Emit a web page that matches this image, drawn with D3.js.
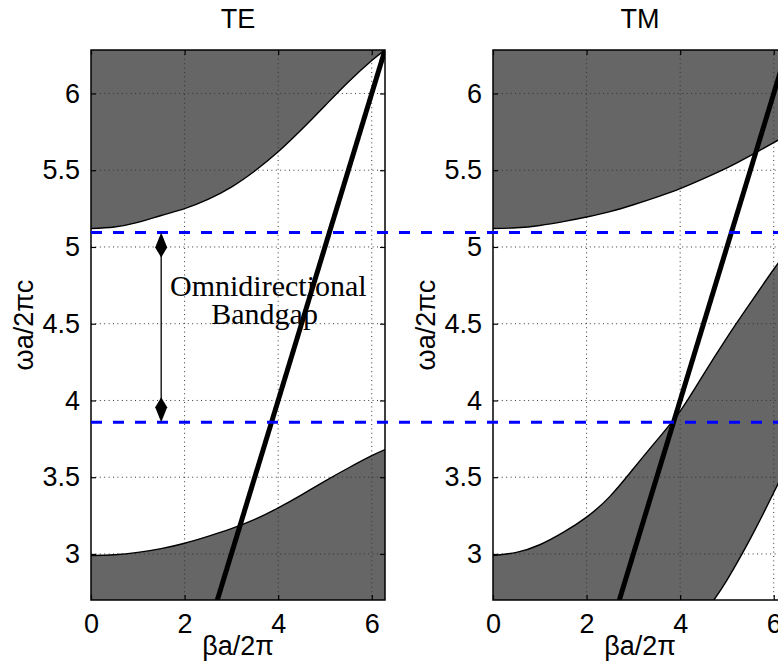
<!DOCTYPE html>
<html>
<head>
<meta charset="utf-8">
<script src="https://cdn.jsdelivr.net/npm/d3@7"></script>
<style>
  body { margin: 0; background: #fff; }
  svg { display: block; }
  .tick text, .lbl { font-family: "Liberation Sans", Arial, sans-serif; font-size: 27px; fill: #000; }
  .note { font-family: "Liberation Serif", "Times New Roman", serif; font-size: 30px; fill: #000; }
</style>
</head>
<body>
<svg id="chart" width="778" height="663"></svg>
<script>
(function () {
    "use strict";

    //Values (beta a / 2 pi , omega a / 2 pi c)
    var TWO_PI = 2 * Math.PI;
    var beta = [0, 0.5, 1, 1.5, 2, 2.5, 3, 3.5, 4, 4.5, 5, 5.5, 6, TWO_PI];
    var teUpper = [5.12, 5.13, 5.16, 5.205, 5.25, 5.31, 5.39, 5.495, 5.62, 5.765, 5.92, 6.075, 6.215, 6.283];
    var teLower = [2.99, 2.995, 3.01, 3.035, 3.07, 3.115, 3.165, 3.225, 3.30, 3.385, 3.475, 3.56, 3.64, 3.68];
    var tmUpper = [5.12, 5.125, 5.14, 5.165, 5.195, 5.23, 5.275, 5.325, 5.38, 5.445, 5.515, 5.595, 5.68, 5.73];
    var tmMiddle = [2.99, 3.01, 3.06, 3.14, 3.24, 3.375, 3.555, 3.74, 3.93, 4.17, 4.41, 4.635, 4.855, 4.97];
    var tmLowBeta = [4.72, 5, 5.5, 6, TWO_PI];
    var tmLow = [2.70, 2.83, 3.10, 3.40, 3.58];
    var lightBeta = [0, TWO_PI];
    var lightOmega = [0, TWO_PI];
    var gapTop = 5.094, gapBottom = 3.858, arrowBeta = 1.5;

    var xTicks = [0, 2, 4, 6];
    var yTicks = [3, 3.5, 4, 4.5, 5, 5.5, 6];
    var yDomain = [2.7, TWO_PI];

    var svg = d3.select("#chart");
    var plotW = 294, top = 50, bottom = 600;

    var panels = [
        { name: "TE", left: 91, bands: [
            { b: beta, w: teUpper, fillTo: "top" },
            { b: beta, w: teLower, fillTo: "bottom" }] },
        { name: "TM", left: 493, bands: [
            { b: beta, w: tmUpper, fillTo: "top" },
            { b: beta, w: tmMiddle, fillTo: "bottom" },
            { b: tmLowBeta, w: tmLow, fillTo: "bottom", colour: "#fff" }] }
    ];

    var y = d3.scaleLinear().domain(yDomain).range([bottom, top]);

    panels.forEach(function (p, pi) {
        var x = d3.scaleLinear().domain([0, TWO_PI]).range([p.left, p.left + plotW]);
        var g = svg.append("g");

        var clipId = "clip" + pi;
        svg.append("clipPath").attr("id", clipId)
            .append("rect").attr("x", p.left).attr("y", top)
            .attr("width", plotW).attr("height", bottom - top);

        var inner = g.append("g").attr("clip-path", "url(#" + clipId + ")");

        //Band patches
        p.bands.forEach(function (band) {
            var pts = band.b.map(function (b, i) { return [b, band.w[i]]; });
            var edge = band.fillTo === "top" ? yDomain[1] : yDomain[0];
            var area = d3.area()
                .x(function (d) { return x(d[0]); })
                .y0(y(edge))
                .y1(function (d) { return y(d[1]); })
                .curve(d3.curveNatural);
            inner.append("path").attr("d", area(pts))
                .attr("fill", band.colour || "#666666");
            band.pts = pts;
        });

        //Grid (drawn over patches, as in the original)
        var grid = inner.append("g").attr("stroke", "#333").attr("stroke-width", 1)
            .attr("stroke-dasharray", "1,3.4");
        xTicks.filter(function (t) { return t > 0; }).forEach(function (t) {
            grid.append("line").attr("x1", x(t)).attr("x2", x(t)).attr("y1", top).attr("y2", bottom);
        });
        yTicks.forEach(function (t) {
            grid.append("line").attr("x1", p.left).attr("x2", p.left + plotW).attr("y1", y(t)).attr("y2", y(t));
        });

        //Band edges
        var line = d3.line()
            .x(function (d) { return x(d[0]); })
            .y(function (d) { return y(d[1]); })
            .curve(d3.curveNatural);
        p.bands.forEach(function (band) {
            inner.append("path").attr("d", line(band.pts))
                .attr("fill", "none").attr("stroke", "#000").attr("stroke-width", 1.4);
        });

        //Light line
        inner.append("path")
            .attr("d", d3.line()(lightBeta.map(function (b, i) { return [x(b), y(lightOmega[i])]; })))
            .attr("stroke", "#000").attr("stroke-width", 5).attr("fill", "none");

        //Axes box with inward ticks on all sides
        g.append("rect").attr("x", p.left).attr("y", top).attr("width", plotW).attr("height", bottom - top)
            .attr("fill", "none").attr("stroke", "#000").attr("stroke-width", 1.5);

        var axL = d3.axisLeft(y).tickValues(yTicks).tickSizeInner(-5).tickSizeOuter(0).tickPadding(11)
            .tickFormat(function (d) { return d; });
        var axR = d3.axisRight(y).tickValues(yTicks).tickSizeInner(-5).tickSizeOuter(0).tickFormat("");
        var axB = d3.axisBottom(x).tickValues(xTicks).tickSizeInner(-5).tickSizeOuter(0).tickPadding(14)
            .tickFormat(function (d) { return d; });
        var axT = d3.axisTop(x).tickValues(xTicks).tickSizeInner(-5).tickSizeOuter(0).tickFormat("");

        [[axL, "translate(" + p.left + ",0)"], [axR, "translate(" + (p.left + plotW) + ",0)"],
         [axB, "translate(0," + bottom + ")"], [axT, "translate(0," + top + ")"]].forEach(function (a) {
            var ag = g.append("g").attr("transform", a[1]).call(a[0]);
            ag.select(".domain").remove();
            ag.selectAll("line").attr("stroke", "#000").attr("stroke-width", 1.2);
            ag.selectAll("text").attr("font-family", null).attr("font-size", null);
        });

        //Titles and labels
        g.append("text").attr("class", "lbl").attr("x", p.left + plotW / 2).attr("y", 28)
            .attr("text-anchor", "middle").text(p.name);
        g.append("text").attr("class", "lbl").attr("x", p.left + plotW / 2).attr("y", 655)
            .attr("text-anchor", "middle").text("βa/2π");
        g.append("text").attr("class", "lbl")
            .attr("transform", "translate(" + (p.left - 58) + "," + ((top + bottom) / 2) + ") rotate(-90)")
            .attr("text-anchor", "middle").text("ωa/2πc");

        p.x = x;
    });

    //Band gap limits across both panels
    var x0 = panels[0].x;
    [gapTop, gapBottom].forEach(function (w) {
        svg.append("line").attr("x1", x0(0)).attr("x2", 790).attr("y1", y(w)).attr("y2", y(w))
            .attr("stroke", "#0000ff").attr("stroke-width", 3).attr("stroke-dasharray", "11,11");
    });

    //Double arrow with diamond heads
    var ax = x0(arrowBeta), ay1 = y(gapTop), ay2 = y(gapBottom);
    svg.append("line").attr("x1", ax).attr("x2", ax).attr("y1", ay1 + 10).attr("y2", ay2 - 10)
        .attr("stroke", "#000").attr("stroke-width", 1.3);
    [[ay1, 1], [ay2, -1]].forEach(function (h) {
        var t = h[0], s = h[1];
        svg.append("path")
            .attr("d", "M" + ax + "," + t + "L" + (ax + 6) + "," + (t + s * 15) + "L" + ax + "," + (t + s * 25) +
                "L" + (ax - 6) + "," + (t + s * 15) + "Z")
            .attr("fill", "#000");
    });

    svg.append("text").attr("class", "note").attr("x", x0(3.79)).attr("y", 296)
        .attr("text-anchor", "middle").text("Omnidirectional");
    svg.append("text").attr("class", "note").attr("x", x0(3.71)).attr("y", 324)
        .attr("text-anchor", "middle").text("Bandgap");
})();
</script>
</body>
</html>
